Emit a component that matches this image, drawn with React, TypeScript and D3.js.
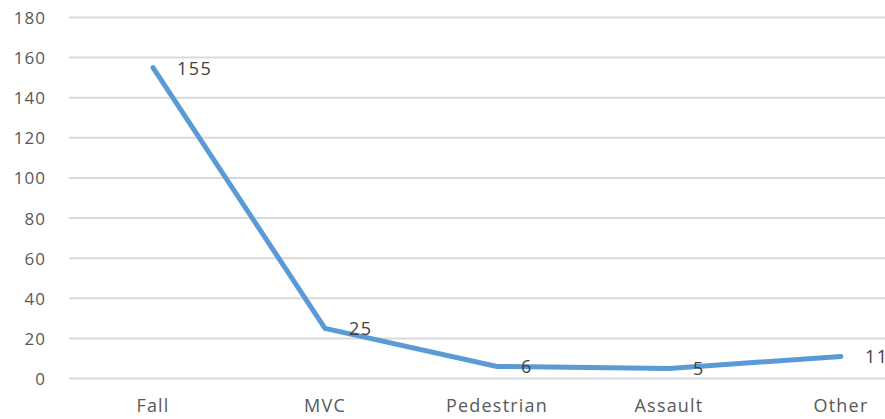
import React from "react";
import * as d3 from "d3";

const categories = ["Fall", "MVC", "Pedestrian", "Assault", "Other"];
const values = [155, 25, 6, 5, 11];
const yTicks = [0, 20, 40, 60, 80, 100, 120, 140, 160, 180];

const W = 885;
const H = 419;

export default function App() {
  const x = d3.scaleBand<string>().domain(categories).range([67, 927]).padding(0);
  const y = d3.scaleLinear().domain([0, 180]).range([378.5, 17.5]);
  const cx = (c: string) => (x(c) as number) + x.bandwidth() / 2;
  const line = d3
    .line<number>()
    .x((_, i) => cx(categories[i]))
    .y((d) => y(d));
  const font = "'Open Sans', sans-serif";
  return (
    <svg
      width={W}
      height={H}
      style={{ position: "absolute", left: 0, top: 0, background: "#fff" }}
    >
      {yTicks.map((t) => (
        <g key={t}>
          <line x1={69} x2={W} y1={y(t)} y2={y(t)} stroke="#d9d9d9" strokeWidth={2} />
          <text
            x={46}
            y={y(t) + 6.5}
            textAnchor="end"
            fontFamily={font}
            fontSize={17}
            letterSpacing={1}
            fill="#595959"
          >
            {t}
          </text>
        </g>
      ))}
      {categories.map((c) => (
        <text
          key={c}
          x={cx(c)}
          y={412}
          textAnchor="middle"
          fontFamily={font}
          fontSize={18}
          letterSpacing={1.2}
          fill="#595959"
        >
          {c}
        </text>
      ))}
      <path
        d={line(values) || ""}
        fill="none"
        stroke="#5b9bd5"
        strokeWidth={5}
        strokeLinejoin="round"
        strokeLinecap="round"
      />
      {values.map((v, i) => (
        <text
          key={i}
          x={cx(categories[i]) + 24}
          y={y(v) + 7}
          fontFamily={font}
          fontSize={18}
          letterSpacing={1.5}
          fill="#404040"
        >
          {v}
        </text>
      ))}
    </svg>
  );
}
